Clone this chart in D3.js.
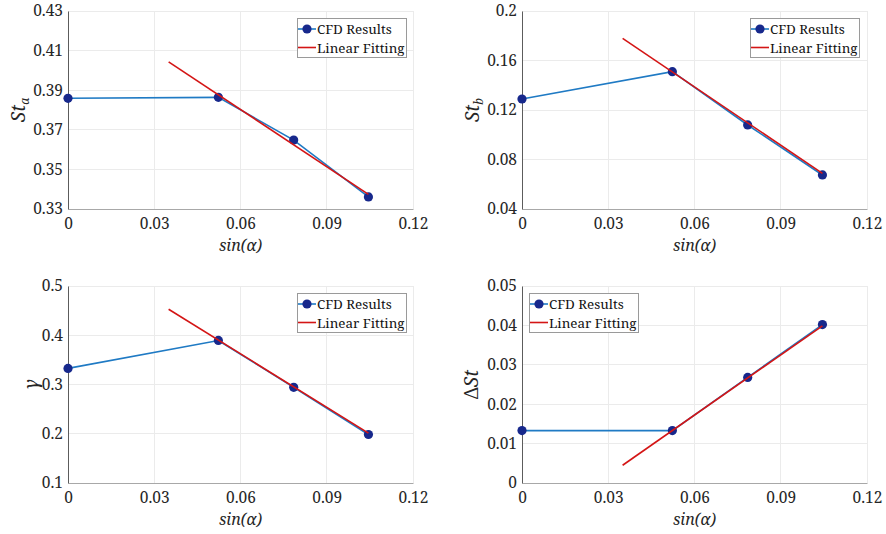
<!DOCTYPE html>
<html>
<head>
<meta charset="utf-8">
<script src="https://cdn.jsdelivr.net/npm/d3@7"></script>
<style>
  html, body { margin: 0; padding: 0; background: #fff; }
  svg { display: block; }
</style>
</head>
<body>
<svg id="chart" width="886" height="534"></svg>
<script>
// Sample positions: sin of the inclination angle
const sinAlpha = [0, 0.0523, 0.0785, 0.1045];

// CFD results per quantity
const stA     = [0.3859, 0.3864, 0.3648, 0.3361];
const stB     = [0.1289, 0.1510, 0.1079, 0.0675];
const gamma   = [0.3327, 0.3894, 0.2943, 0.1985];
const deltaSt = [0.0133, 0.0133, 0.0268, 0.0402];

// Linear fitting segments (start / end)
const fitX       = [0.035, 0.1045];
const fitStA     = [0.4043, 0.3374];
const fitStB     = [0.1779, 0.0688];
const fitGamma   = [0.4528, 0.2012];
const fitDeltaSt = [0.0045, 0.0399];

// Ticks
const xTicks       = [0, 0.03, 0.06, 0.09, 0.12];
const xTickLabels  = ["0", "0.03", "0.06", "0.09", "0.12"];
const ticksStA     = [0.33, 0.35, 0.37, 0.39, 0.41, 0.43];
const labelsStA    = ["0.33", "0.35", "0.37", "0.39", "0.41", "0.43"];
const ticksStB     = [0.04, 0.08, 0.12, 0.16, 0.2];
const labelsStB    = ["0.04", "0.08", "0.12", "0.16", "0.2"];
const ticksGamma   = [0.1, 0.2, 0.3, 0.4, 0.5];
const labelsGamma  = ["0.1", "0.2", "0.3", "0.4", "0.5"];
const ticksDelta   = [0, 0.01, 0.02, 0.03, 0.04, 0.05];
const labelsDelta  = ["0", "0.01", "0.02", "0.03", "0.04", "0.05"];

const legendNames = ["CFD Results", "Linear Fitting"];

const FONT = '"Noto Serif", serif';
const colors = { line: "#1f7ac4", marker: "#17288c", fit: "#d41515", text: "#262626",
                 grid: "#ebebeb", axisY: "#5c5c5c", axisX: "#a8a8a8", legendBox: "#9a9a9a" };

const panels = [
  { x0: 68,  x1: 413, y0: 11,  y1: 209, y: stA, fit: fitStA, ticks: ticksStA, labels: labelsStA,
    ylabel: "a", ylabelX: 19, legendX: 297 },
  { x0: 522, x1: 867, y0: 11,  y1: 209, y: stB, fit: fitStB, ticks: ticksStB, labels: labelsStB,
    ylabel: "b", ylabelX: 473, legendX: 750 },
  { x0: 68,  x1: 413, y0: 286, y1: 483, y: gamma, fit: fitGamma, ticks: ticksGamma, labels: labelsGamma,
    ylabel: "gamma", ylabelX: 32, legendX: 297 },
  { x0: 522, x1: 867, y0: 286, y1: 483, y: deltaSt, fit: fitDeltaSt, ticks: ticksDelta, labels: labelsDelta,
    ylabel: "delta", ylabelX: 472, legendX: 529 }
];

const svg = d3.select("#chart");

function styleTicks(sel) {
  sel.selectAll("text")
    .attr("font-family", null).attr("font-size", null)
    .style("font-family", FONT).style("font-size", "15.5px").style("fill", colors.text);
}

panels.forEach(p => {
  const x = d3.scaleLinear().domain([xTicks[0], xTicks[xTicks.length - 1]]).range([p.x0, p.x1]);
  const y = d3.scaleLinear().domain([p.ticks[0], p.ticks[p.ticks.length - 1]]).range([p.y1, p.y0]);
  const g = svg.append("g");

  // grid
  g.selectAll(".vgrid").data(xTicks.slice(1)).enter().append("line")
    .attr("x1", d => x(d)).attr("x2", d => x(d)).attr("y1", p.y0).attr("y2", p.y1)
    .attr("stroke", colors.grid).attr("stroke-width", 1).attr("shape-rendering", "crispEdges");
  g.selectAll(".hgrid").data(p.ticks.slice(1)).enter().append("line")
    .attr("x1", p.x0).attr("x2", p.x1).attr("y1", d => y(d)).attr("y2", d => y(d))
    .attr("stroke", colors.grid).attr("stroke-width", 1).attr("shape-rendering", "crispEdges");

  // axes
  const xAxis = d3.axisBottom(x).tickValues(xTicks).tickSize(0).tickPadding(9)
    .tickFormat((d, i) => xTickLabels[i]);
  const gx = g.append("g").attr("transform", `translate(0,${p.y1})`).call(xAxis);
  gx.select(".domain").attr("stroke", colors.axisX);
  styleTicks(gx);

  const yAxis = d3.axisLeft(y).tickValues(p.ticks).tickSize(0).tickPadding(5)
    .tickFormat((d, i) => p.labels[i]);
  const gy = g.append("g").attr("transform", `translate(${p.x0},0)`).call(yAxis);
  gy.select(".domain").attr("stroke", colors.axisY);
  styleTicks(gy);

  // x label
  g.append("text")
    .style("font-family", FONT).style("font-style", "italic").style("font-size", "16px")
    .style("fill", colors.text)
    .attr("x", (p.x0 + p.x1) / 2).attr("y", p.y1 + 42).attr("text-anchor", "middle")
    .text("sin(α)");

  // y label
  const cy = (p.y0 + p.y1) / 2;
  const yl = g.append("text")
    .style("font-family", FONT).style("font-style", "italic").style("font-size", "19px")
    .style("fill", colors.text)
    .attr("text-anchor", "middle")
    .attr("transform", `translate(${p.ylabelX + 6},${cy}) rotate(-90)`);
  if (p.ylabel === "a" || p.ylabel === "b") {
    yl.append("tspan").text("St");
    yl.append("tspan").style("font-size", "12px").attr("dy", 4).text(p.ylabel);
  } else if (p.ylabel === "gamma") {
    yl.append("tspan").text("γ");
  } else {
    yl.append("tspan").style("font-style", "normal").text("Δ");
    yl.append("tspan").text("St");
  }

  // CFD line + markers
  const pts = sinAlpha.map((s, i) => [s, p.y[i]]);
  g.append("path").datum(pts)
    .attr("d", d3.line().x(d => x(d[0])).y(d => y(d[1])))
    .attr("fill", "none").attr("stroke", colors.line).attr("stroke-width", 1.6);
  g.selectAll(".pt").data(pts).enter().append("circle")
    .attr("cx", d => x(d[0])).attr("cy", d => y(d[1])).attr("r", 4.6)
    .attr("fill", colors.marker);

  // linear fit
  const fitPts = fitX.map((s, i) => [s, p.fit[i]]);
  g.append("path").datum(fitPts)
    .attr("d", d3.line().x(d => x(d[0])).y(d => y(d[1])))
    .attr("fill", "none").attr("stroke", colors.fit).attr("stroke-width", 1.6);

  // legend
  const lx = p.legendX, ly = p.y0 + 7;
  const lg = g.append("g").attr("transform", `translate(${lx},${ly})`);
  lg.append("rect").attr("x", 0.5).attr("y", 0.5).attr("width", 109).attr("height", 39)
    .attr("fill", "#fff").attr("stroke", colors.legendBox).attr("stroke-width", 1);
  lg.append("line").attr("x1", 1).attr("x2", 19).attr("y1", 11).attr("y2", 11)
    .attr("stroke", colors.line).attr("stroke-width", 1.6);
  lg.append("circle").attr("cx", 10).attr("cy", 11).attr("r", 4.6).attr("fill", colors.marker);
  lg.append("line").attr("x1", 1).attr("x2", 19).attr("y1", 29.5).attr("y2", 29.5)
    .attr("stroke", colors.fit).attr("stroke-width", 1.6);
  lg.selectAll(".lt").data(legendNames).enter().append("text")
    .style("font-family", FONT).style("font-size", "13.4px").style("fill", "#111")
    .attr("x", 20).attr("y", (d, i) => 16 + i * 18.5)
    .text(d => d);
});
</script>
</body>
</html>
